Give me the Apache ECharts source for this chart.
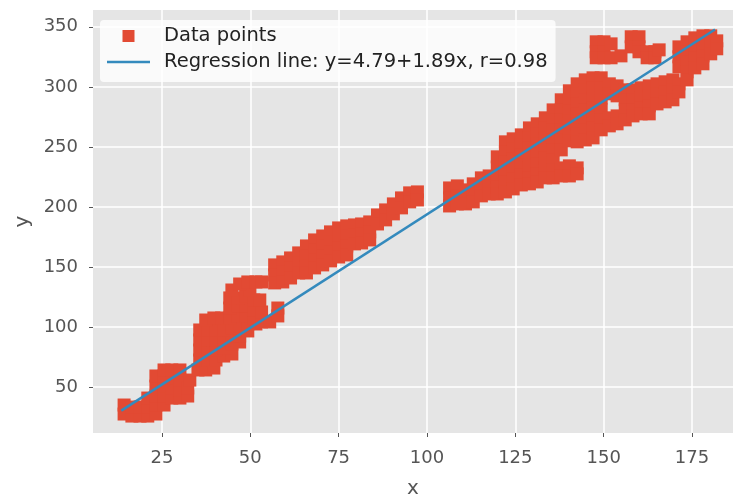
<!DOCTYPE html>
<html>
<head>
<meta charset="utf-8">
<title>Regression</title>
<script src="https://cdn.jsdelivr.net/npm/echarts@6/dist/echarts.min.js"></script>
<style>
  html, body { margin: 0; padding: 0; background: #fff; }
  #chart { width: 736px; height: 497px; }
</style>
</head>
<body>
<div id="chart"></div>
<script>
// tick labels
var xTicks = [25, 50, 75, 100, 125, 150, 175];
var yTicks = [50, 100, 150, 200, 250, 300, 350];

// data points (x, y)
var lowerCluster = [[14.3,27.5],[14.3,35.0],[16.5,25.8],[16.5,33.3],[18.8,25.8],[18.8,33.3],[21.0,25.8],[21.0,33.3],[21.0,40.8],[23.3,27.5],[23.3,35.0],[23.3,42.5],[23.3,50.8],[23.3,59.2],[25.6,35.0],[25.6,42.5],[25.6,50.8],[25.6,59.2],[25.6,64.2],[27.8,40.8],[27.8,49.2],[27.8,57.5],[27.8,64.2],[30.1,40.8],[30.1,47.5],[30.1,55.8],[30.1,64.2],[32.3,42.5],[32.3,49.2],[32.9,55.8]];
var secondCluster = [[35.2,64.2],[37.4,64.2],[39.7,65.8],[35.7,72.5],[38.0,72.5],[40.3,72.5],[42.5,75.8],[44.8,77.5],[35.7,80.8],[38.0,80.8],[40.3,80.8],[42.5,82.5],[44.8,85.8],[47.0,87.5],[35.7,89.2],[38.0,89.2],[40.3,89.2],[42.5,89.2],[44.8,92.5],[47.0,92.5],[49.3,96.7],[35.7,97.5],[38.0,97.5],[40.3,97.5],[42.5,97.5],[44.8,99.2],[47.0,100.8],[49.3,102.5],[51.6,102.5],[37.4,105.8],[39.7,107.5],[41.9,107.5],[44.2,107.5],[46.5,109.2],[48.7,109.2],[51.0,107.5],[53.2,104.2],[55.5,104.2],[57.8,109.2],[57.8,115.8],[44.2,115.8],[46.5,117.5],[48.7,117.5],[51.0,114.2],[53.2,112.5],[44.2,124.2],[46.5,124.2],[48.7,125.8],[51.0,122.5],[52.7,122.5],[44.8,130.8],[49.9,130.8],[47.0,135.8],[49.3,137.5],[51.6,137.5],[53.2,137.5]];
var middleBand = [[56.9,151.7],[56.9,143.3],[56.9,136.7],[59.2,154.2],[59.2,145.8],[59.2,137.5],[61.4,157.5],[61.4,149.2],[61.4,140.8],[63.7,161.7],[63.7,153.3],[63.7,145.0],[65.9,167.5],[65.9,159.2],[65.9,150.8],[65.9,145.0],[68.2,172.5],[68.2,164.2],[68.2,155.8],[68.2,149.2],[70.5,175.8],[70.5,167.5],[70.5,159.2],[70.5,151.7],[72.7,179.2],[72.7,170.8],[72.7,162.5],[72.7,155.0],[75.0,182.5],[75.0,174.2],[75.0,165.8],[75.0,158.3],[77.3,184.2],[77.3,175.8],[77.3,167.5],[77.3,160.0],[79.5,185.0],[79.5,176.7],[79.5,169.2],[81.5,185.8],[81.5,177.5],[81.5,170.0]];
var upperTail = [[83.8,187.5],[83.8,179.2],[83.8,172.5],[86.0,193.3],[86.0,185.8],[88.3,197.5],[88.3,189.2],[90.5,202.5],[90.5,194.2],[92.8,207.5],[92.8,199.2],[95.1,211.7],[95.1,204.2],[97.3,212.5],[97.3,205.8]];
var rightStart = [[106.4,215.8],[106.4,207.5],[106.4,200.8],[108.6,217.5],[108.6,209.2],[108.6,202.5],[110.9,214.2],[110.9,207.5],[110.9,202.5],[113.1,219.2],[113.1,210.8],[113.1,204.2],[115.4,224.2],[115.4,215.8],[115.4,209.2]];
var rightBand = [
  [117.6,225.8],[117.6,217.5],[117.6,210.8],
  [119.9,241.7],[119.9,233.3],[119.9,225.0],[119.9,216.7],[119.9,210.8],
  [122.2,254.2],[122.2,245.8],[122.2,237.5],[122.2,229.2],[122.2,220.8],[122.2,212.5],
  [124.4,256.7],[124.4,248.3],[124.4,240.0],[124.4,231.7],[124.4,223.3],[124.4,215.0],
  [126.7,260.0],[126.7,251.7],[126.7,243.3],[126.7,235.0],[126.7,226.7],[126.7,218.3],
  [129.0,265.8],[129.0,257.5],[129.0,249.2],[129.0,240.8],[129.0,232.5],[129.0,224.2],[129.0,219.2],
  [131.2,269.2],[131.2,260.8],[131.2,252.5],[131.2,244.2],[131.2,235.8],[131.2,227.5],[131.2,220.8],
  [133.5,274.2],[133.5,265.8],[133.5,257.5],[133.5,249.2],[133.5,240.8],[133.5,232.5],[133.5,224.2],
  [135.7,280.8],[135.7,272.5],[135.7,264.2],[135.7,255.8],[135.7,247.5],[135.7,239.2],[135.7,230.8],[135.7,224.2],
  [138.0,289.2],[138.0,280.8],[138.0,272.5],[138.0,264.2],[138.0,255.8],[138.0,247.5],[138.0,232.5],[138.0,225.8],
  [140.3,296.7],[140.3,288.3],[140.3,280.0],[140.3,271.7],[140.3,263.3],[140.3,255.0],[140.3,234.2],[140.3,225.8],
  [142.5,302.5],[142.5,294.2],[142.5,285.8],[142.5,277.5],[142.5,269.2],[142.5,260.8],[142.5,254.2],[142.5,232.5],[142.5,227.5],
  [144.8,305.8],[144.8,297.5],[144.8,289.2],[144.8,280.8],[144.8,272.5],[144.8,264.2],[144.8,255.8],
  [147.0,307.5],[147.0,299.2],[147.0,290.8],[147.0,282.5],[147.0,274.2],[147.0,265.8],[147.0,257.5],
  [149.3,307.5],[149.3,299.2],[149.3,290.8],[149.3,280.8],[149.3,272.5],[149.3,264.2],
  [151.6,302.5],[151.6,294.2],[151.6,274.2],[151.6,267.5],
  [153.8,300.8],[153.8,292.5],[153.8,275.8],[153.8,269.2],
  [156.1,297.5],[156.1,289.2],[156.1,280.8],[156.1,272.5],
  [158.3,297.5],[158.3,289.2],[158.3,280.8],[158.3,275.8],
  [160.6,299.2],[160.6,290.8],[160.6,282.5],[160.6,277.5],
  [162.9,300.8],[162.9,292.5],[162.9,284.2],[162.9,277.5],
  [165.1,302.5],[165.1,294.2],[165.1,285.8],
  [167.4,304.2],[167.4,295.8],[167.4,287.5],
  [169.6,305.8],[169.6,297.5],[169.6,289.2],
  [171.3,302.5],[171.3,295.8]
];
var topCluster = [[147.9,337.5],[147.9,329.2],[147.9,324.2],[150.1,337.5],[150.1,329.2],[150.1,324.2],[152.1,335.8],[152.1,324.2],[154.9,325.8],[157.8,341.7],[157.8,333.3],[160.0,341.7],[160.0,333.3],[160.0,329.2],[162.3,329.2],[162.3,324.2],[164.5,329.2],[164.5,324.2],[165.7,330.8]];
var rightCluster = [[171.3,333.3],[171.3,325.0],[171.3,316.7],[173.6,337.5],[173.6,329.2],[173.6,320.8],[173.6,312.5],[173.6,305.8],[175.8,340.8],[175.8,332.5],[175.8,324.2],[175.8,315.8],[178.1,342.5],[178.1,334.2],[178.1,325.8],[178.1,319.2],[180.3,342.5],[180.3,335.8],[180.3,327.5],[182.0,338.3],[182.0,331.7]];

// regression line end points
var lineX = [13.5, 181.5];
var lineY = [30.3, 347.8];

var pointsName = 'Data points';
var lineName = 'Regression line: y=4.79+1.89x, r=0.98';

var points = [].concat(lowerCluster, secondCluster, middleBand, upperTail,
  rightStart, rightBand, topCluster, rightCluster);
var linePoints = lineX.map(function (x, i) { return [x, lineY[i]]; });

var font = 'DejaVu Sans';
var myChart = echarts.init(document.getElementById('chart'));

var option = {
  animation: false,
  backgroundColor: '#fff',
  grid: {
    left: 93, right: 3, top: 10, bottom: 64,
    outerBoundsMode: 'none',
    show: true, backgroundColor: '#E5E5E5', borderWidth: 0
  },
  legend: {
    orient: 'vertical',
    left: 100, top: 20,
    backgroundColor: 'rgba(255,255,255,0.8)',
    borderRadius: 4,
    padding: [6, 8, 10, 7],
    itemWidth: 43, itemHeight: 12, itemGap: 6,
    textStyle: { fontFamily: font, fontSize: 19.5, color: '#222', lineHeight: 20, padding: [0, 0, 0, 9] },
    data: [
      { name: pointsName, icon: 'path://M0,0L10,0L10,10L0,10Z' },
      { name: lineName, icon: 'path://M0,0L43,0L43,2.5L0,2.5Z' }
    ]
  },
  xAxis: {
    type: 'value',
    min: 5.5, max: 186.6,
    name: 'x', nameLocation: 'middle', nameGap: 46,
    nameTextStyle: { fontFamily: font, fontSize: 20, color: '#555' },
    axisLine: { show: false },
    axisTick: { show: true, length: 4, customValues: xTicks, lineStyle: { color: '#555' } },
    axisLabel: { customValues: xTicks, margin: 16, fontFamily: font, fontSize: 18, color: '#555' },
    splitLine: { show: true, lineStyle: { color: '#fff', width: 1.5 } }
  },
  yAxis: {
    type: 'value',
    min: 11.7, max: 364,
    name: 'y', nameLocation: 'middle', nameGap: 60,
    nameTextStyle: { fontFamily: font, fontSize: 20, color: '#555' },
    axisLine: { show: false },
    axisTick: { show: true, length: 4, customValues: yTicks, lineStyle: { color: '#555' } },
    axisLabel: { customValues: yTicks, margin: 15, fontFamily: font, fontSize: 18, color: '#555' },
    splitLine: { show: true, lineStyle: { color: '#fff', width: 1.5 } }
  },
  series: [
    {
      name: pointsName,
      type: 'scatter',
      symbol: 'rect',
      symbolSize: 13,
      itemStyle: { color: '#E24A33', opacity: 1 },
      data: points,
      z: 2
    },
    {
      name: lineName,
      type: 'line',
      symbol: 'none',
      color: '#348ABD',
      lineStyle: { color: '#348ABD', width: 2.5 },
      data: linePoints,
      z: 3
    }
  ]
};

myChart.setOption(option);

window.addEventListener('resize', function () {
  myChart.resize();
});
</script>
</body>
</html>
